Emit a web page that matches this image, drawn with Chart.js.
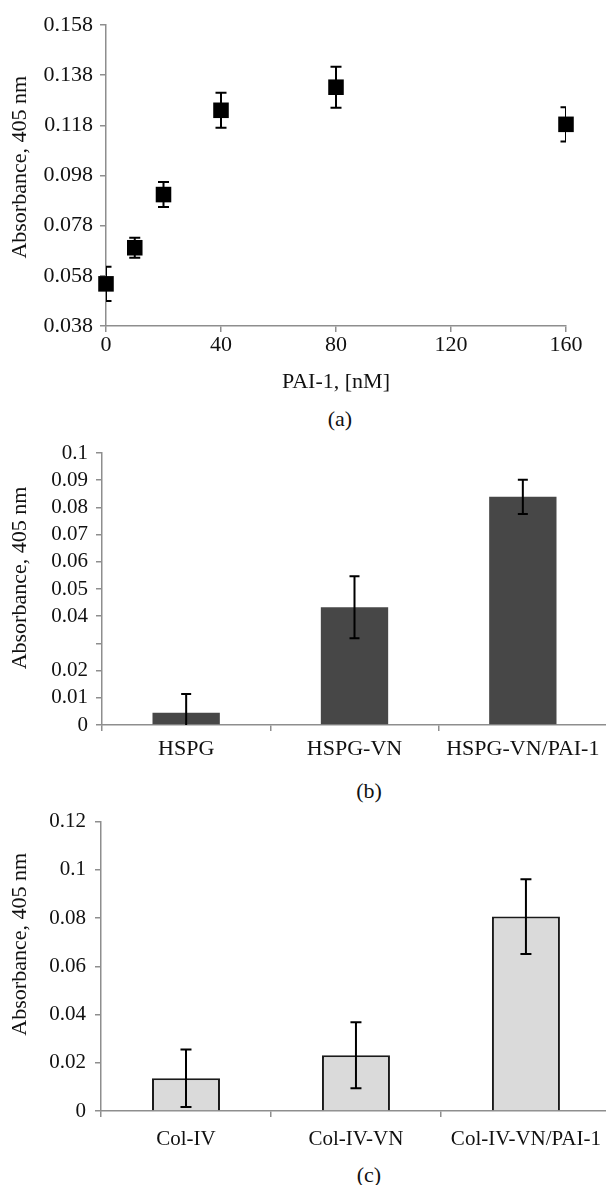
<!DOCTYPE html>
<html lang="en">
<head>
<meta charset="UTF-8">
<title>PAI-1 binding to HSPG and collagen IV</title>
<script src="https://cdn.jsdelivr.net/npm/chart.js"></script>
<style>
  html, body { margin: 0; padding: 0; background: #fff; }
  body { width: 606px; height: 1185px; overflow: hidden; position: relative;
         font-family: 'Liberation Serif', 'Times New Roman', serif; }
  canvas { position: absolute; left: 0; }
  .cap { position: absolute; width: 100px; text-align: center; font-size: 22px;
         line-height: 26px; color: #111; }
</style>
</head>
<body>
<canvas id="chartA" width="606" height="400" style="top:0"></canvas>
<div class="cap" style="left:290px; top:406px">(a)</div>
<canvas id="chartB" width="607" height="340" style="top:430px"></canvas>
<div class="cap" style="left:319px; top:778px">(b)</div>
<canvas id="chartC" width="611" height="360" style="top:800px"></canvas>
<div class="cap" style="left:319px; top:1162px">(c)</div>

<script>
const FONT = "'Liberation Serif', 'Times New Roman', serif";
const AXIS_GREY = '#8e8e8e';
const TEXT = '#111';
const Y_TITLE = 'Absorbance, 405 nm';

// (a) PAI-1 titration
const paiConc = [0, 10, 20, 40, 80, 160];
const absA = [0.0548, 0.0692, 0.0904, 0.1240, 0.1332, 0.1184];
const errA = [0.0068, 0.0040, 0.0050, 0.0070, 0.0082, 0.0068];
const xTicksA = [0, 40, 80, 120, 160];
const yTicksA = [0.038, 0.058, 0.078, 0.098, 0.118, 0.138, 0.158];

// (b) HSPG coatings
const labelsB = ['HSPG', 'HSPG-VN', 'HSPG-VN/PAI-1'];
const absB = [0.0045, 0.0433, 0.0839];
const errB = [0.0069, 0.0114, 0.0063];
const yTicksB = [0, 0.01, 0.02, 0.03, 0.04, 0.05, 0.06, 0.07, 0.08, 0.09, 0.1];
const yTickLabelsB = ['0', '0.01', '0.02', '', '0.04', '0.05', '0.06', '0.07', '0.08', '0.09', '0.1'];

// (c) collagen IV coatings
const labelsC = ['Col-IV', 'Col-IV-VN', 'Col-IV-VN/PAI-1'];
const absC = [0.0136, 0.0231, 0.0806];
const errC = [0.0119, 0.0137, 0.0155];
const yTicksC = [0, 0.02, 0.04, 0.06, 0.08, 0.1, 0.12];

Chart.defaults.font.family = FONT;
Chart.defaults.color = TEXT;

// leading no-break spaces nudge the rotated axis title upwards
const raised = n => '\u00a0'.repeat(n) + Y_TITLE;

// whiskers for the first dataset, clipped to the plot area
function drawErrors(chart, opts) {
  const ds = chart.data.datasets[0];
  const meta = chart.getDatasetMeta(0);
  const yScale = chart.scales.y;
  const area = chart.chartArea;
  const ctx = chart.ctx;
  ctx.save();
  ctx.beginPath();
  ctx.rect(area.left, area.top, area.right - area.left, area.bottom - area.top);
  ctx.clip();
  ctx.strokeStyle = '#000';
  ctx.lineWidth = opts.width;
  meta.data.forEach((el, i) => {
    const raw = ds.data[i];
    const v = typeof raw === 'object' ? raw.y : raw;
    const e = ds.errorBars[i];
    const top = yScale.getPixelForValue(v + e);
    const bot = yScale.getPixelForValue(v - e);
    const x = el.x, c = opts.cap;
    ctx.beginPath();
    ctx.moveTo(x, top); ctx.lineTo(x, bot);
    ctx.moveTo(x - c, top); ctx.lineTo(x + c, top);
    ctx.moveTo(x - c, bot); ctx.lineTo(x + c, bot);
    ctx.stroke();
  });
  ctx.restore();
}

const errorBarPlugin = {
  id: 'errorBars',
  defaults: { behind: false, cap: 5, width: 2 },
  beforeDatasetsDraw(chart, args, opts) { if (opts.behind) drawErrors(chart, opts); },
  afterDatasetsDraw(chart, args, opts) { if (!opts.behind) drawErrors(chart, opts); }
};
Chart.register(errorBarPlugin);

function axisStyle(extra) {
  return Object.assign({
    grid: { drawOnChartArea: false, color: AXIS_GREY, tickLength: 6, lineWidth: 1.5 },
    border: { color: AXIS_GREY, width: 1.5 }
  }, extra);
}

const common = {
  responsive: false,
  animation: false,
  events: [],
  layout: { padding: 0 },
  plugins: { legend: { display: false }, tooltip: { enabled: false } }
};

// (a) scatter with square markers
new Chart(document.getElementById('chartA'), {
  type: 'scatter',
  data: {
    datasets: [{
      data: paiConc.map((x, i) => ({ x: x, y: absA[i] })),
      errorBars: errA,
      pointStyle: 'rect',
      pointRadius: 11,
      backgroundColor: '#000',
      borderWidth: 0,
      clip: false
    }]
  },
  options: Object.assign({}, common, {
    layout: { padding: { top: 25, right: 40, left: 0, bottom: 0 } },
    plugins: Object.assign({}, common.plugins, { errorBars: { behind: true, cap: 5.5, width: 2 } }),
    scales: {
      x: axisStyle({
        type: 'linear', min: 0, max: 160,
        afterBuildTicks: s => { s.ticks = xTicksA.map(v => ({ value: v })); },
        afterFit: s => { s.height = 74; },
        ticks: { font: { size: 22 }, padding: 0, maxRotation: 0, autoSkip: false },
        title: { display: true, text: 'PAI-1, [nM]', font: { size: 22 }, padding: { top: 0, bottom: 5 } }
      }),
      y: axisStyle({
        min: 0.038, max: 0.158,
        afterBuildTicks: s => { s.ticks = yTicksA.map(v => ({ value: v })); },
        afterFit: s => { s.width = 106; },
        ticks: { font: { size: 22 }, padding: 7, autoSkip: false, callback: v => v.toFixed(3) },
        title: { display: true, text: raised(3), font: { size: 22 }, padding: { top: 7, bottom: 0 } }
      })
    }
  })
});

// (b) dark bars
new Chart(document.getElementById('chartB'), {
  type: 'bar',
  data: {
    labels: labelsB,
    datasets: [{
      data: absB,
      errorBars: errB,
      backgroundColor: '#474747',
      borderWidth: 0,
      categoryPercentage: 1,
      barPercentage: 0.4
    }]
  },
  options: Object.assign({}, common, {
    layout: { padding: { top: 23, right: 0, left: 0, bottom: 0 } },
    plugins: Object.assign({}, common.plugins, { errorBars: { behind: false, cap: 5, width: 2 } }),
    scales: {
      x: axisStyle({
        afterFit: s => { s.height = 45; },
        ticks: { font: { size: 22 }, padding: 5, maxRotation: 0, autoSkip: false }
      }),
      y: axisStyle({
        min: 0, max: 0.1,
        afterBuildTicks: s => { s.ticks = yTicksB.map(v => ({ value: v })); },
        afterFit: s => { s.width = 102; },
        ticks: { font: { size: 21 }, padding: 8, autoSkip: false, callback: (v, i) => yTickLabelsB[i] },
        title: { display: true, text: raised(4), font: { size: 22 }, padding: { top: 7, bottom: 0 } }
      })
    }
  })
});

// (c) light outlined bars
new Chart(document.getElementById('chartC'), {
  type: 'bar',
  data: {
    labels: labelsC,
    datasets: [{
      data: absC,
      errorBars: errC,
      backgroundColor: '#dadada',
      borderColor: '#1a1a1a',
      borderWidth: 2,
      categoryPercentage: 1,
      barPercentage: 0.4
    }]
  },
  options: Object.assign({}, common, {
    layout: { padding: { top: 19, right: 0, left: 0, bottom: 0 } },
    plugins: Object.assign({}, common.plugins, { errorBars: { behind: false, cap: 5.5, width: 2 } }),
    scales: {
      x: axisStyle({
        afterFit: s => { s.height = 49; },
        ticks: { font: { size: 21 }, padding: 10, maxRotation: 0, autoSkip: false }
      }),
      y: axisStyle({
        min: 0, max: 0.12,
        afterBuildTicks: s => { s.ticks = yTicksC.map(v => ({ value: v })); },
        afterFit: s => { s.width = 101; },
        ticks: { font: { size: 21 }, padding: 9, autoSkip: false, callback: v => String(+v.toFixed(2)) },
        title: { display: true, text: raised(8), font: { size: 22 }, padding: { top: 7, bottom: 0 } }
      })
    }
  })
});
</script>
</body>
</html>
